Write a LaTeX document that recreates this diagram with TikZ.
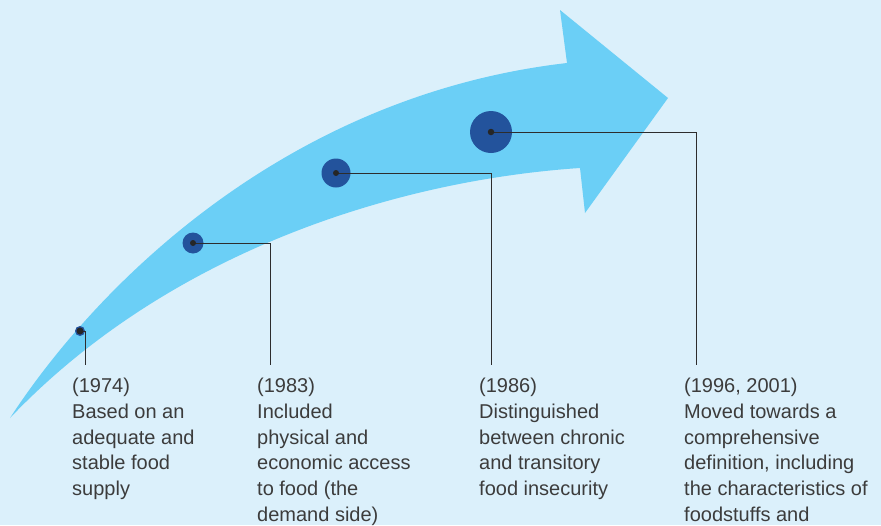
\documentclass[tikz,border=0pt]{standalone}
\usepackage{fontspec}
\setmainfont{Liberation Sans}
\definecolor{bgblue}{RGB}{219,240,251}
\definecolor{arrowblue}{RGB}{107,207,246}
\definecolor{dotblue}{RGB}{35,83,156}
\definecolor{linegray}{RGB}{45,45,45}
\definecolor{txtgray}{RGB}{60,60,60}
\begin{document}
\begin{tikzpicture}[x=1pt,y=-1pt,
  bluedot/.style={circle,fill=dotblue,inner sep=0pt,minimum size=#1},
  coredot/.style={circle,fill=black!85,inner sep=0pt,minimum size=#1},
  leader/.style={draw=linegray,line width=0.8pt},
  desc/.style={anchor=base west,align=left,inner sep=0pt,text=txtgray,font=\fontsize{20}{25.8}\selectfont}]
\fill[bgblue] (0,0) rectangle (881,525);
\useasboundingbox (0,0) rectangle (881,525);
\fill[arrowblue] (10,418) .. controls (100,280) and (290,95) .. (567,63) -- (560,10) -- (668,98) -- (585,213) -- (580,168) .. controls (400,180) and (170,250) .. (10,418) -- cycle;
% dots
\node[bluedot=10pt] (d1) at (80,331) {};
\node[bluedot=21pt] (d2) at (193,243) {};
\node[bluedot=29pt] (d3) at (336,173) {};
\node[bluedot=42pt] (d4) at (491,132) {};
% leader ends
\coordinate (e1) at (85,365);
\coordinate (e2) at (270,365);
\coordinate (e3) at (491,365);
\coordinate (e4) at (696,365);
\draw[leader] (d1.center) -| (e1);
\draw[leader] (d2.center) -| (e2);
\draw[leader] (d3.center) -| (e3);
\draw[leader] (d4.center) -| (e4);
\node[coredot=7pt] at (d1.center) {};
\node[coredot=6pt] at (d2.center) {};
\node[coredot=6pt] at (d3.center) {};
\node[coredot=6.5pt] at (d4.center) {};
% texts (anchored at the baseline of their last line)
\node[desc] (t1) at (72,495.7) {(1974)\\Based on an\\adequate and\\stable food\\supply};
\node[desc] (t2) at (257,521.5) {(1983)\\Included\\physical and\\economic access\\to food (the\\demand side)};
\node[desc] (t3) at (479,495.7) {(1986)\\Distinguished\\between chronic\\and transitory\\food insecurity};
\node[desc] (t4) at (684,521.5) {(1996, 2001)\\Moved towards a\\comprehensive\\definition, including\\the characteristics of\\foodstuffs and};
\end{tikzpicture}
\end{document}
